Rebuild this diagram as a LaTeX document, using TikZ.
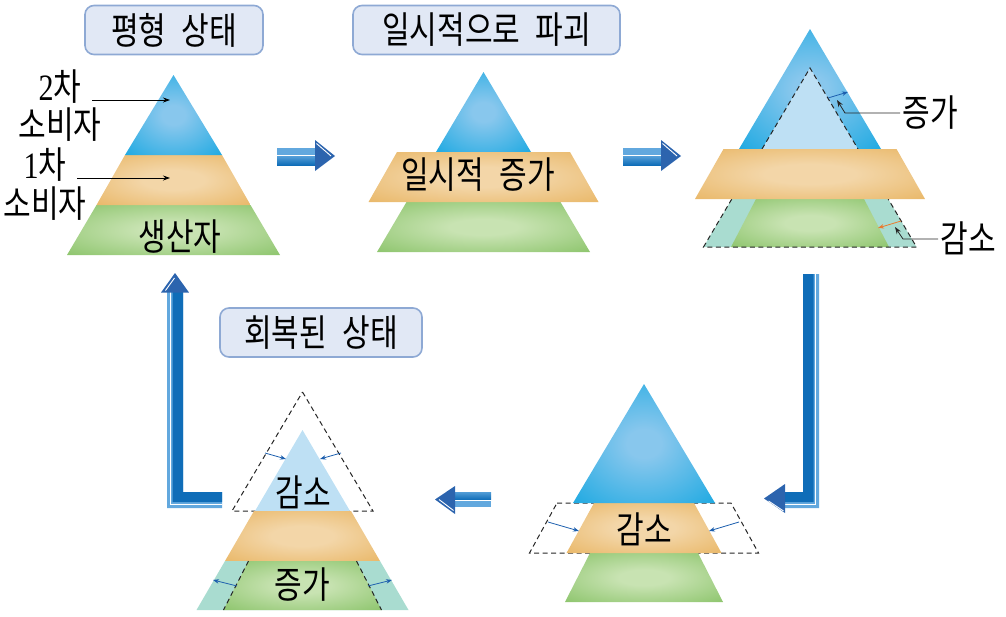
\documentclass[tikz,border=0pt]{standalone}
\usepackage{fontspec}
\newfontfamily\kr{Noto Sans CJK KR}
\newfontfamily\serifd{Liberation Serif}
\usetikzlibrary{arrows.meta}
\definecolor{blueC}{HTML}{88C7ED}
\definecolor{blueE}{HTML}{0FA5E0}
\definecolor{orC}{HTML}{F3D6A8}
\definecolor{orE}{HTML}{E6AE54}
\definecolor{grC}{HTML}{C8E3B2}
\definecolor{grE}{HTML}{84C062}
\definecolor{lblue}{HTML}{BEE0F4}
\definecolor{teal}{HTML}{A9DCD0}
\definecolor{boxfill}{HTML}{E1E8F5}
\definecolor{boxline}{HTML}{8EA9D4}
\definecolor{arrdark}{HTML}{0F6DB8}
\definecolor{arrlight}{HTML}{62A8DE}
\definecolor{arrhead}{HTML}{2C64AE}
\definecolor{smallblue}{HTML}{1D5FAE}
\definecolor{smallor}{HTML}{EC7A2C}
\pgfdeclareradialshading{bluerad}{\pgfpointorigin}{color(0bp)=(blueC); color(6bp)=(blueC); color(40bp)=(blueE); color(50bp)=(blueE)}
\pgfdeclareradialshading{orrad}{\pgfpointorigin}{color(0bp)=(orC); color(10bp)=(orC); color(44bp)=(orE); color(50bp)=(orE)}
\pgfdeclareradialshading{grrad}{\pgfpointorigin}{color(0bp)=(grC); color(8bp)=(grC); color(40bp)=(grE); color(50bp)=(grE)}
\newcommand\gap{\hspace{0.5em}}
\newcommand\kt[1]{\scalebox{0.97}[1.2]{#1}}
\begin{document}
\begin{tikzpicture}[x=1pt,y=-1pt,
  lbl/.style={font=\kr\fontsize{31}{33}\selectfont, inner sep=0pt},
  ttl/.style={draw=boxline, fill=boxfill, line width=1.6pt, rounded corners=9pt,
    inner sep=0pt, minimum height=49pt, font=\kr\fontsize{31}{33}\selectfont},
  dsh/.style={draw=black!85, dash pattern=on 5pt off 3.5pt, line width=1pt},
  sarr/.style={draw=smallblue, line width=0.8pt, -{Stealth[length=6pt,width=4.5pt]}},
  oarr/.style={draw=smallor, line width=0.8pt, -{Stealth[length=6pt,width=4.5pt]}},
  karr/.style={draw=black, line width=0.8pt, -{Stealth[length=7pt,width=5pt]}},
  kline/.style={draw=black!85, line width=0.8pt, -{Stealth[length=7pt,width=5pt]}}]
\useasboundingbox (0,0) rectangle (1006,616);

% ---------- titles ----------
\node[ttl, minimum width=178pt] (t1) at (174,30) {\kt{평형\gap{}상태}};
\node[ttl, minimum width=267pt] (t2) at (486.5,30) {\kt{일시적으로\gap{}파괴}};
\node[ttl, minimum width=202pt] (t3) at (321,332.5) {\kt{회복된\gap{}상태}};

% ---------- pyramid 1 ----------
\shade[shading=grrad] (96.5,205)--(250.5,205)--(280,255)--(67,255)--cycle;
\shade[shading=orrad] (125,155)--(222,155)--(250.5,205)--(96.5,205)--cycle;
\shade[shading=bluerad] (173.5,75)--(222,155)--(125,155)--cycle;
\node[lbl] (l2a) at (60,87) {\kt{{\serifd 2}차}};
\node[lbl] (l2b) at (60,125) {\kt{소비자}};
\node[lbl] (l1a) at (45,165) {\kt{{\serifd 1}차}};
\node[lbl] (l1b) at (45,204) {\kt{소비자}};
\node[lbl] (prod) at (180,237) {\kt{생산자}};
\coordinate (a2s) at (92,100); \coordinate (a2e) at (170,100);
\coordinate (a1s) at (77,178); \coordinate (a1e) at (170,178);
\draw[karr] (a2s) -- (a2e);
\draw[karr] (a1s) -- (a1e);

% ---------- pyramid 2 ----------
\shade[shading=grrad] (406.5,202)--(560.5,202)--(590,252)--(377,252)--cycle;
\shade[shading=bluerad] (483.5,72)--(531,152)--(436,152)--cycle;
\shade[shading=orrad] (397,152)--(570,152)--(598.5,202)--(368.5,202)--cycle;
\node[lbl] (inc) at (478,175) {\kt{일시적\gap{}증가}};

% ---------- pyramid 3 ----------
\shade[shading=bluerad] (810,29)--(881,149)--(739,149)--cycle;
\fill[lblue] (810,68)--(858,149)--(762,149)--cycle;
\draw[dsh] (762,149)--(810,68)--(858,149);
\fill[teal] (731.8,199)--(888.2,199)--(916.5,247)--(703.5,247)--cycle;
\shade[shading=grrad] (756,199)--(864,199)--(889,247)--(731,247)--cycle;
\draw[dsh] (731.8,199)--(703.5,247)--(916.5,247)--(888.2,199);
\shade[shading=orrad] (723.5,149)--(896.5,149)--(925,199)--(695,199)--cycle;
\coordinate (p3bs) at (828,98); \coordinate (p3be) at (848,92);
\draw[sarr] (p3bs) -- (p3be);
\coordinate (p3os) at (901,221); \coordinate (p3oe) at (878,228);
\draw[oarr] (p3os) -- (p3oe);
\node[lbl] (zg3) at (930,113) {\kt{증가}};
\node[lbl] (gs3) at (968,238) {\kt{감소}};
\coordinate (k1) at (845,113); \coordinate (k1e) at (837,100);
\coordinate (k2) at (903,239); \coordinate (k2e) at (895,227);
\draw[kline] ([xshift=-2pt]zg3.west |- 0,113) -- (k1) -- (k1e);
\draw[kline] ([xshift=-2pt]gs3.west |- 0,239) -- (k2) -- (k2e);

% ---------- pyramid 4 ----------
\draw[dsh] (557,503)--(731,503)--(758.5,553)--(529.5,553)--cycle;
\shade[shading=grrad] (590,553)--(698,553)--(723,602)--(565,602)--cycle;
\shade[shading=orrad] (594,503)--(694,503)--(721.5,553)--(566.5,553)--cycle;
\shade[shading=bluerad] (644,384)--(715,503)--(573,503)--cycle;
\node[lbl] (gs4) at (644,529) {\kt{감소}};
\coordinate (p4ls) at (548,522); \coordinate (p4le) at (579,531);
\coordinate (p4rs) at (739,522); \coordinate (p4re) at (709,531);
\draw[sarr] (p4ls) -- (p4le);
\draw[sarr] (p4rs) -- (p4re);

% ---------- pyramid 5 ----------
\draw[dsh] (302.5,392)--(373,511)--(232,511)--cycle;
\fill[lblue] (302.5,430)--(350,511)--(255,511)--cycle;
\shade[shading=orrad] (254,511)--(351,511)--(380,561)--(225,561)--cycle;
\fill[teal] (225,561)--(380,561)--(408.5,610)--(196.5,610)--cycle;
\shade[shading=grrad] (248.5,561)--(356.5,561)--(381.5,610)--(223.5,610)--cycle;
\draw[dsh] (248.5,561)--(223.5,610);
\draw[dsh] (356.5,561)--(381.5,610);
\node[lbl] (gs5) at (303,492) {\kt{감소}};
\node[lbl] (zg5) at (302,585) {\kt{증가}};
\coordinate (p5a) at (265,453); \coordinate (p5b) at (286,459);
\coordinate (p5c) at (341,453); \coordinate (p5d) at (320,459);
\coordinate (p5e) at (237,586); \coordinate (p5f) at (213,580);
\coordinate (p5g) at (368,586); \coordinate (p5h) at (392,580);
\draw[sarr] (p5a) -- (p5b);
\draw[sarr] (p5c) -- (p5d);
\draw[sarr] (p5e) -- (p5f);
\draw[sarr] (p5g) -- (p5h);

% ---------- big arrows ----------
\foreach \sx/\sy in {277/148, 623/148}{
\begin{scope}[shift={(\sx,\sy)}]
  \fill[arrlight] (0,0) rectangle (38,7);
  \shade[top color=arrlight!80!arrdark, bottom color=arrdark] (0,8.5) rectangle (38,17);
  \fill[arrhead] (38,-8)--(58,8)--(38,23)--cycle;
  \draw[white, line width=0.9pt] (39.5,-4.5)--(54,8);
\end{scope}}
\begin{scope}[shift={(491,507)}, rotate=180]
  \fill[arrlight] (0,0) rectangle (36,6);
  \shade[top color=arrlight!80!arrdark, bottom color=arrdark] (0,7.5) rectangle (36,15);
  \fill[arrhead] (36,-7)--(56,7.5)--(36,21)--cycle;
  \draw[white, line width=0.9pt] (37.5,-3.5)--(52,7.5);
\end{scope}
\fill[arrlight] (803,274)--(819,274)--(819,508)--(784,508)--(784,492)--(803,492)--cycle;
\fill[arrdark] (803,274)--(813.5,274)--(813.5,502)--(784,502)--(784,492)--(803,492)--cycle;
\draw[white, line width=1pt] (815.7,274)--(815.7,504.3)--(784,504.3);
\fill[arrhead] (785,484)--(764,498.5)--(785,513)--cycle;
\draw[white, line width=0.9pt] (768.5,501)--(783.5,511);
\fill[arrlight] (167,292)--(167,508)--(222,508)--(222,492)--(183,492)--(183,292)--cycle;
\fill[arrdark] (172.5,292)--(172.5,502)--(222,502)--(222,492)--(183,492)--(183,292)--cycle;
\draw[white, line width=1pt] (170.3,292)--(170.3,504.3)--(222,504.3);
\fill[arrhead] (161,292.5)--(175,273)--(189,292.5)--cycle;
\draw[white, line width=0.9pt] (165.5,290.5)--(174.5,278);
\end{tikzpicture}
\end{document}
